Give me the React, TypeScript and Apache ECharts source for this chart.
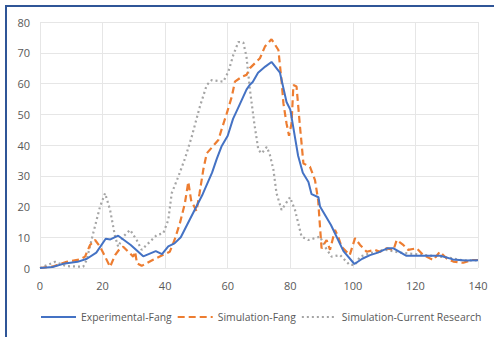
import React, { useEffect, useRef } from "react";
import * as echarts from "echarts";

const seriesNames = ["Experimental-Fang", "Simulation-Fang", "Simulation-Current Research"];

const experimentalFang: [number, number][] = [
  [0, 0], [4, 0.3], [8, 1.5], [12, 2], [15, 3], [18, 5], [21, 9.5], [22.5, 9.3], [25, 10.5],
  [29, 7.5], [33, 3.8], [37, 5.5], [39, 4.5], [41, 7], [43, 8], [45, 10], [48, 16], [52, 24],
  [55, 31], [56.5, 35.5], [58, 39.5], [60, 43], [61.7, 48.5], [63.3, 52], [66, 58], [67, 59.5],
  [68, 60.5], [69.7, 63.5], [72, 65.5], [74, 67], [76.7, 63.5], [78.8, 54], [80, 51.5],
  [82.5, 36.5], [84, 31], [85.8, 28], [86.8, 24], [89, 23], [89.5, 20], [93, 14], [97, 5.5],
  [100.5, 1.3], [103, 3], [105.5, 4.2], [108, 5], [111, 6.4], [113, 6.4], [117, 4], [124, 4],
  [128, 4], [132, 2.8], [136, 2.4], [140, 2.5],
];

const simulationFang: [number, number][] = [
  [0, 0], [4.2, 0.5], [8.5, 2], [12.8, 2.8], [14.4, 3.7], [16, 7.5], [17.6, 9.1], [19.2, 6.9],
  [20.8, 3.7], [22.4, 0.4], [24, 4.2], [25.6, 6.4], [26.6, 6.9], [28.2, 5.3], [29.8, 3.7],
  [30.4, 5.3], [31, 1.5], [32.5, 0.7], [36, 2.6], [39.4, 4.3], [41.5, 5.3], [43, 9.1],
  [44.7, 14.5], [46.3, 21], [47.4, 28], [48.3, 22], [50, 18.5], [51, 24.3], [52.2, 32],
  [53.3, 37.3], [57, 41.6], [58, 44.9], [59.7, 50.3], [61.3, 55.7], [62.3, 60.6], [64.5, 62.2],
  [66, 62.8], [67.1, 65], [70.3, 68.2], [71.9, 72], [74, 74.4], [76.2, 70.9], [77.2, 61],
  [77.8, 53.6], [78.8, 47], [79.6, 43], [80.4, 47], [81, 59.5], [82, 59], [83.1, 46],
  [84.2, 34], [86.3, 32.9], [87.9, 28.6], [88.9, 22.1], [89.5, 13.4], [90, 6.4], [91.6, 9.1],
  [92.7, 5.9], [94.3, 12.4], [95.3, 10.2], [96.4, 6.9], [99, 4.2], [100.7, 9.7], [102.3, 7.5],
  [104.4, 5.3], [107, 5.9], [108.7, 5.3], [110.8, 6.4], [113, 5.9], [114, 9.1], [116.1, 7.5],
  [117.7, 5.9], [120.4, 6.4], [122.5, 4.2], [125.7, 2.6], [127.8, 5.3], [130, 3.1],
  [132.1, 2.1], [135.3, 1.7], [138, 2.6], [140, 2.6],
];

const simulationCurrent: [number, number][] = [
  [0, 0], [4.8, 2], [8.5, 0.6], [13.8, 0.4], [14.9, 2.6], [17, 11.3], [19.2, 20], [20.8, 24.3],
  [22.4, 18.9], [24, 10.2], [25, 6.9], [26.6, 10.2], [28.8, 12.4], [30.9, 9.1], [32.5, 5.9],
  [34.6, 8], [37.3, 10.7], [39.4, 11.3], [41, 15.6], [42.1, 24.3], [44.2, 29.7], [46.3, 35.5],
  [48.5, 42.7], [51.1, 52.5], [53.3, 59.5], [54.9, 61.1], [58.6, 60.6], [60.2, 63.8],
  [61.8, 69.3], [63.4, 73.5], [65, 73.3], [66, 68.7], [67.1, 58], [68.5, 47], [69.8, 38.4],
  [70.9, 37.3], [72.5, 39.4], [73.5, 36.7], [74.6, 32], [75.6, 24.3], [77.2, 18.9],
  [79.9, 23], [81.5, 18.9], [83.6, 10.2], [85.8, 9.1], [89.5, 10.2], [91.1, 6.9], [93.2, 3.7],
  [95.9, 4.2], [99, 1], [100.7, 1], [102.3, 3.7], [105.5, 4.8], [110, 6], [115, 5],
  [120, 4.5], [125, 4], [130, 3.5], [135, 2.5], [140, 2.5],
];

const xTicks = { min: 0, max: 140, interval: 20 };
const yTicks = { min: 0, max: 80, interval: 10 };

export default function App() {
  const ref = useRef<HTMLDivElement>(null);
  useEffect(() => {
    document.body.style.margin = "0";
    const chart = echarts.init(ref.current!, undefined, { renderer: "svg" });
    const labelStyle = { color: "#595959", fontSize: 11, fontFamily: "Open Sans" };
    chart.setOption({
      animation: false,
      backgroundColor: "#ffffff",
      grid: { left: 40, right: 16, top: 22, bottom: 69, containLabel: false },
      graphic: [
        {
          type: "rect",
          shape: { x: 6, y: 6, width: 600, height: 400 },
          style: { fill: "none", stroke: "#2F5597", lineWidth: 2 },
          silent: true,
        },
      ],
      xAxis: {
        type: "value",
        min: xTicks.min,
        max: xTicks.max,
        interval: xTicks.interval,
        axisLine: { show: false },
        axisTick: { show: false },
        axisLabel: { ...labelStyle, margin: 12 },
        splitLine: { show: true, lineStyle: { color: "#e6e6e6", width: 1 } },
      },
      yAxis: {
        type: "value",
        min: yTicks.min,
        max: yTicks.max,
        interval: yTicks.interval,
        axisLine: { show: false },
        axisTick: { show: false },
        axisLabel: { ...labelStyle, margin: 10 },
        splitLine: { show: true, lineStyle: { color: "#e6e6e6", width: 1 } },
      },
      legend: {
        bottom: 10,
        left: 35,
        itemWidth: 35,
        itemHeight: 10,
        itemGap: 5,
        itemStyle: { opacity: 0 },
        textStyle: { color: "#595959", fontSize: 10.4, fontFamily: "Open Sans" },
        data: seriesNames,
      },
      series: [
        {
          name: seriesNames[0],
          type: "line",
          data: experimentalFang,
          symbol: "none",
          lineStyle: { color: "#4472C4", width: 2 },
          itemStyle: { color: "#4472C4" },
          z: 3,
        },
        {
          name: seriesNames[1],
          type: "line",
          data: simulationFang,
          symbol: "none",
          lineStyle: { color: "#ED7D31", width: 2.2, type: [7, 4] },
          itemStyle: { color: "#ED7D31" },
          z: 2,
        },
        {
          name: seriesNames[2],
          type: "line",
          data: simulationCurrent,
          symbol: "none",
          lineStyle: { color: "#A5A5A5", width: 2.2, type: [2, 3] },
          itemStyle: { color: "#A5A5A5" },
          z: 1,
        },
      ],
    });
    return () => chart.dispose();
  }, []);
  return (
    <div
      ref={ref}
      style={{ position: "absolute", left: 0, top: 0, width: 494, height: 337 }}
    />
  );
}
